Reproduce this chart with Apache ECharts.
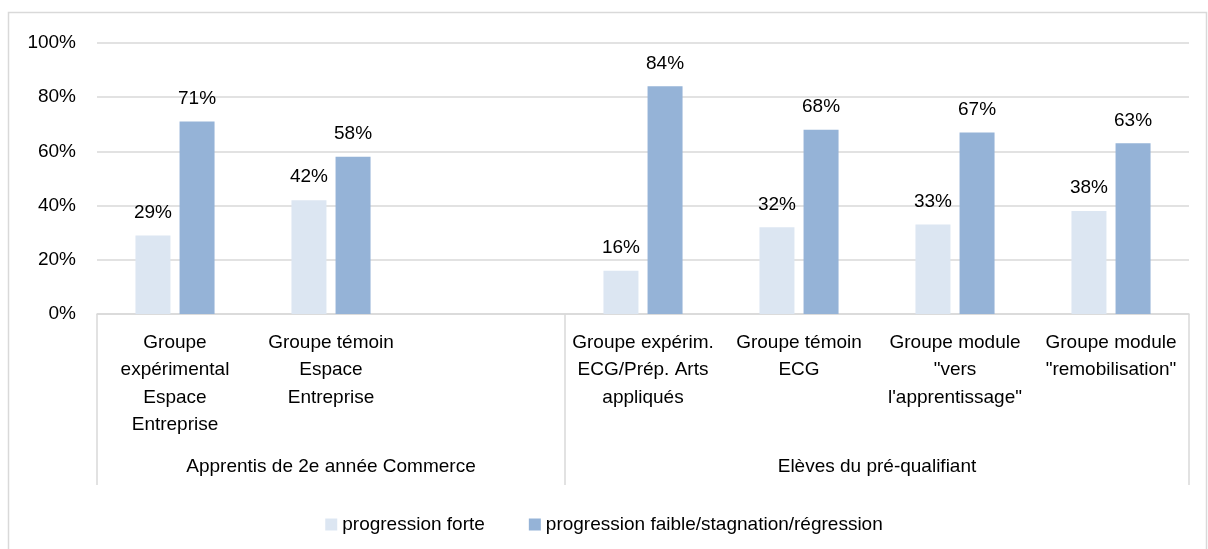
<!DOCTYPE html>
<html>
<head>
    <meta charset="utf-8" />
    <title>Progression</title>
    <style type="text/css">
        html, body {
            margin: 0;
            padding: 0;
            background: #fff;
        }

        #container {
            width: 1208px;
            height: 549px;
        }
    </style>
    <script src="https://cdn.jsdelivr.net/npm/echarts@6/dist/echarts.min.js"></script>
</head>
<body>
    <div id="container"></div>
    <script type="text/javascript">
        // catégories (la 3e est vide pour séparer les deux groupes)
        var categories = [
            'Groupe\nexpérimental\nEspace\nEntreprise',
            'Groupe témoin\nEspace\nEntreprise',
            '',
            'Groupe expérim.\nECG/Prép. Arts\nappliqués',
            'Groupe témoin\nECG',
            'Groupe module\n"vers\nl\'apprentissage"',
            'Groupe module\n"remobilisation"'
        ];
        var seriesNames = ['progression forte', 'progression faible/stagnation/régression'];
        var forte = [29, 42, null, 16, 32, 33, 38];
        var faible = [71, 58, null, 84, 68, 67, 63];

        // groupes du 2e niveau de l'axe
        var groupNames = ['Apprentis de 2e année Commerce', 'Elèves du pré-qualifiant'];
        var groupSpans = [3, 4];

        var yTicks = [0, 20, 40, 60, 80, 100];

        // limites et centres des groupes, en unités de catégorie
        var bounds = [0];
        var centers = [];
        groupSpans.forEach(function (s, i) {
            centers.push(bounds[i] + s / 2);
            bounds.push(bounds[i] + s);
        });

        var font = 'Liberation Sans, Arial, sans-serif';
        var grey = '#d9d9d9';

        var chart = echarts.init(document.getElementById('container'));
        var option = {
            animation: false,
            textStyle: { fontFamily: font },
            graphic: [{
                type: 'rect',
                shape: { x: 8.5, y: 12.5, width: 1198, height: 560 },
                style: { fill: 'none', stroke: grey, lineWidth: 1.5 },
                silent: true
            }],
            grid: {
                left: 97,
                right: 19,
                top: 43,
                bottom: 235
            },
            legend: {
                data: seriesNames,
                left: 'center',
                top: 510,
                itemWidth: 12,
                itemHeight: 12,
                itemGap: 44,
                icon: 'rect',
                textStyle: { fontSize: 19, color: '#000', fontFamily: font }
            },
            xAxis: [{
                type: 'category',
                data: categories,
                position: 'bottom',
                axisLine: { show: true, lineStyle: { color: grey, width: 1.5 } },
                axisTick: { show: false },
                axisLabel: {
                    interval: 0,
                    margin: 15,
                    fontSize: 19,
                    lineHeight: 27.5,
                    color: '#000',
                    fontFamily: font
                }
            }, {
                type: 'value',
                position: 'bottom',
                offset: 0,
                min: 0,
                max: categories.length,
                splitLine: { show: false },
                axisLine: { show: false },
                axisTick: {
                    show: true,
                    customValues: bounds,
                    length: 171,
                    lineStyle: { color: grey, width: 1.5 }
                },
                axisLabel: {
                    customValues: centers,
                    margin: 142,
                    fontSize: 19,
                    lineHeight: 22,
                    color: '#000',
                    fontFamily: font,
                    formatter: function (v) {
                        var i = centers.indexOf(v);
                        return i >= 0 ? groupNames[i] : '';
                    }
                }
            }],
            yAxis: {
                type: 'value',
                min: yTicks[0],
                max: yTicks[yTicks.length - 1],
                interval: yTicks[1] - yTicks[0],
                axisLine: { show: false },
                axisTick: { show: false },
                splitLine: { lineStyle: { color: grey, width: 1.5 } },
                axisLabel: {
                    margin: 21,
                    fontSize: 19,
                    color: '#000',
                    fontFamily: font,
                    formatter: '{value}%'
                }
            },
            series: [{
                name: seriesNames[0],
                type: 'bar',
                data: forte,
                barWidth: 35,
                barGap: '26%',
                itemStyle: { color: '#dce6f2' },
                label: {
                    show: true,
                    position: 'top',
                    distance: 12,
                    fontSize: 19,
                    lineHeight: 22,
                    color: '#000',
                    fontFamily: font,
                    formatter: '{c}%'
                }
            }, {
                name: seriesNames[1],
                type: 'bar',
                data: faible,
                barWidth: 35,
                itemStyle: { color: '#95b3d7' },
                label: {
                    show: true,
                    position: 'top',
                    distance: 12,
                    fontSize: 19,
                    lineHeight: 22,
                    color: '#000',
                    fontFamily: font,
                    formatter: '{c}%'
                }
            }]
        };
        chart.setOption(option);
    </script>
</body>
</html>
